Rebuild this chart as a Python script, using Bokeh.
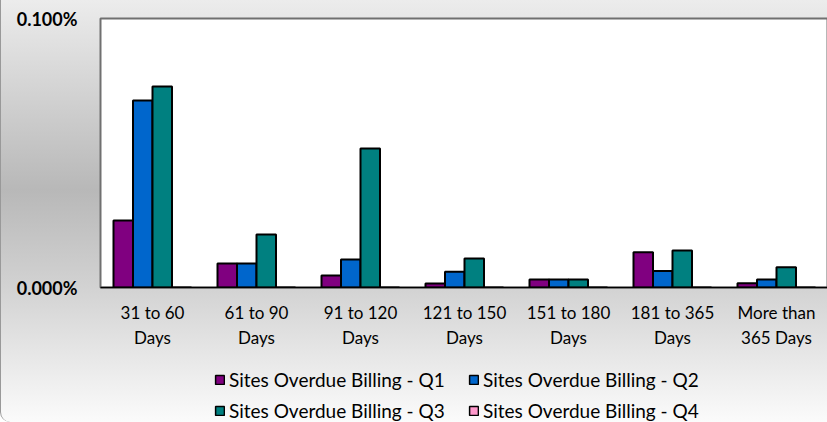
from bokeh.plotting import figure
from bokeh.layouts import column
from bokeh.models import Range1d, FactorRange, FixedTicker, ColumnDataSource, Legend, LegendItem
from bokeh.transform import dodge
from bokeh.embed import file_html
from bokeh.resources import INLINE

categories = ["31 to 60\nDays", "61 to 90\nDays", "91 to 120\nDays", "121 to 150\nDays",
              "151 to 180\nDays", "181 to 365\nDays", "More than\n365 Days"]
q1 = [0.0249, 0.0089, 0.0045, 0.0015, 0.0030, 0.0131, 0.0016]
q2 = [0.0695, 0.0089, 0.0104, 0.0059, 0.0030, 0.0061, 0.0030]
q3 = [0.0747, 0.0197, 0.0517, 0.0108, 0.0030, 0.0138, 0.0075]
q4 = [0.0, 0.0, 0.0, 0.0, 0.0, 0.0, 0.0]
series_names = ["Sites Overdue Billing - Q1", "Sites Overdue Billing - Q2",
                "Sites Overdue Billing - Q3", "Sites Overdue Billing - Q4"]
series_colors = ["#800080", "#0066CC", "#008080", "#FF99CC"]
y_ticks = [0.0, 0.1]
y_tick_labels = ["0.000%", "0.100%"]

FONT = "Lato"

source = ColumnDataSource(dict(cat=categories, q1=q1, q2=q2, q3=q3, q4=q4))

p = figure(width=827, height=350, output_backend="svg", toolbar_location=None,
           x_range=FactorRange(*categories), y_range=Range1d(0, 0.1),
           min_border_left=99, min_border_right=0, min_border_top=18, min_border_bottom=63)
p.border_fill_alpha = 0
p.background_fill_color = "white"
p.outline_line_color = "#707070"
p.outline_line_width = 2
p.grid.visible = False

bw = 0.1875
offsets = [-1.5 * bw, -0.5 * bw, 0.5 * bw, 1.5 * bw]
for key, off, col in zip(["q1", "q2", "q3", "q4"], offsets, series_colors):
    p.vbar(x=dodge("cat", off, range=p.x_range), top=key, width=bw, source=source,
           fill_color=col, line_color="black", line_width=2)

p.yaxis.ticker = FixedTicker(ticks=y_ticks)
p.yaxis.major_label_overrides = {t: l for t, l in zip(y_ticks, y_tick_labels)}
p.yaxis.axis_line_color = None
p.yaxis.major_tick_line_color = None
p.yaxis.minor_tick_line_color = None
p.yaxis.major_label_standoff = 17
p.yaxis.major_label_text_font = FONT
p.yaxis.major_label_text_font_size = "18px"
p.yaxis.major_label_text_font_style = "bold"
p.yaxis.major_label_text_color = "black"

p.xaxis.axis_line_color = "black"
p.xaxis.axis_line_width = 1.5
p.xaxis.major_tick_line_color = None
p.xaxis.minor_tick_line_color = None
p.xaxis.major_label_standoff = 8
p.xaxis.major_label_text_font = FONT
p.xaxis.major_label_text_font_size = "17px"
p.xaxis.major_label_text_color = "black"
p.xaxis.major_label_text_line_height = 1.2

# legend strip
lg = figure(width=827, height=72, output_backend="svg", toolbar_location=None,
            x_range=Range1d(0, 1), y_range=Range1d(0, 1),
            min_border=0, min_border_left=0, min_border_right=0, min_border_top=0, min_border_bottom=0)
lg.axis.visible = False
lg.grid.visible = False
lg.outline_line_color = None
lg.background_fill_alpha = 0
lg.border_fill_alpha = 0
dummies = []
for col in series_colors:
    r = lg.vbar(x=[5], top=[0.5], width=0.1, fill_color=col, line_color="black", line_width=1.5)
    dummies.append(r)
items = [LegendItem(label=n, renderers=[r]) for n, r in zip(series_names, dummies)]
items = [items[0], items[2], items[1], items[3]]
legend = Legend(items=items, ncols=2, location=(114, 0),
                glyph_width=11, glyph_height=11, label_standoff=4, label_width=231,
                spacing=8, padding=0, margin=0, border_line_color=None,
                background_fill_alpha=0, label_text_font=FONT,
                label_text_font_size="19px", label_text_color="black")
lg.add_layout(legend, "center")

layout = column(p, lg, spacing=0,
                styles={"background": "linear-gradient(to bottom, #ececec 0%, #b8b8b8 45%, #d2d2d2 68%, #fbfbfb 100%)",
                        "border-left": "1px solid #999999", "border-bottom-left-radius": "10px"})

open("out.html", "w").write(file_html(layout, INLINE))
